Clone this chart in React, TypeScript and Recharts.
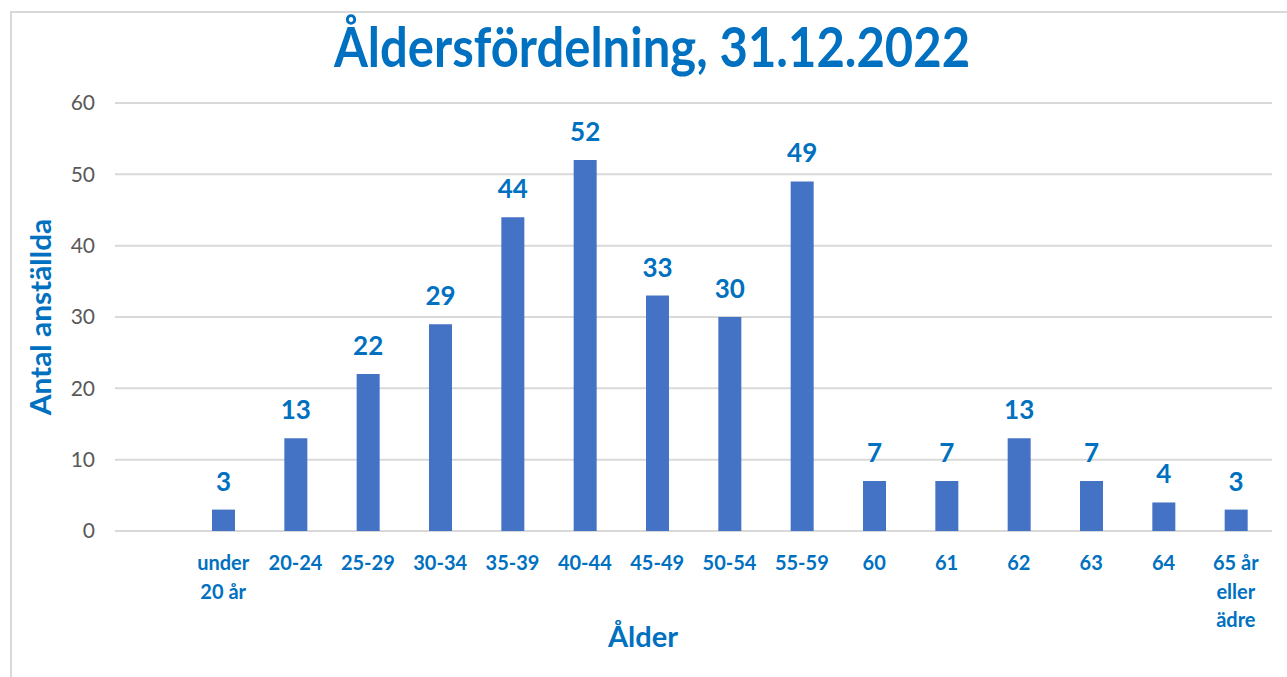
import React from "react";
import { BarChart, Bar, XAxis, YAxis, CartesianGrid, LabelList } from "recharts";

const ageGroups = [
  "under\n20 år", "20-24", "25-29", "30-34", "35-39", "40-44", "45-49", "50-54",
  "55-59", "60", "61", "62", "63", "64", "65 år\neller\nädre",
];
const employees = [3, 13, 22, 29, 44, 52, 33, 30, 49, 7, 7, 13, 7, 4, 3];
const yTicks = [0, 10, 20, 30, 40, 50, 60];

const data = ageGroups.map((g, i) => ({ group: g, count: employees[i] }));

const BLUE = "#0070C0";
const FONT = "Lato, 'Noto Sans', sans-serif";

function AgeTick(props: any) {
  const { x, y, payload } = props;
  const lines = String(payload.value).split("\n");
  return (
    <text x={x} y={y} textAnchor="middle" fill={BLUE} fontSize={20} fontWeight={700} fontFamily={FONT}>
      {lines.map((l, i) => (
        <tspan key={i} x={x} dy={i === 0 ? 31 : 28.5}>{l}</tspan>
      ))}
    </text>
  );
}

export default function App() {
  return (
    <div style={{ position: "absolute", left: 0, top: 0, width: 1287, height: 677, background: "#fff", overflow: "hidden" }}>
      <div style={{ position: "absolute", left: 10, top: 11, width: 1300, height: 700, borderTop: "2px solid #d9d9d9", borderLeft: "2px solid #d9d9d9" }} />
      <div style={{ position: "absolute", left: 0, top: 0 }}>
        <BarChart width={1287} height={677} data={data} margin={{ top: 103, right: 15, bottom: 0, left: 60 }}>
          <CartesianGrid vertical={false} stroke="#d9d9d9" strokeWidth={2} />
          <XAxis
            dataKey="group"
            axisLine={false}
            tickLine={false}
            interval={0}
            padding={{ left: 72, right: 0 }}
            tick={<AgeTick />}
            height={146}
          />
          <YAxis
            domain={[0, 60]}
            ticks={yTicks}
            width={55}
            axisLine={false}
            tickLine={false}
            tickMargin={14}
            tick={{ fill: "#595959", fontSize: 21, fontFamily: FONT }}
          />
          <Bar dataKey="count" fill="#4472C4" barSize={23} isAnimationActive={false}>
            <LabelList dataKey="count" position="top" offset={19} fill={BLUE} fontSize={26} fontWeight={700} fontFamily={FONT} />
          </Bar>
        </BarChart>
      </div>
      <svg width={1287} height={677} style={{ position: "absolute", left: 0, top: 0, pointerEvents: "none" }}>
        <text transform="translate(652,67) scale(1,1.15)" textAnchor="middle" fill={BLUE} fontSize={49} fontWeight={700} fontFamily={FONT}>
          Åldersfördelning, 31.12.2022
        </text>
        <text transform="translate(51,317) rotate(-90) scale(1.03,1)" textAnchor="middle" fill={BLUE} fontSize={29} fontWeight={700} fontFamily={FONT}>
          Antal anställda
        </text>
        <text x={643} y={647} textAnchor="middle" fill={BLUE} fontSize={29} fontWeight={700} fontFamily={FONT}>
          Ålder
        </text>
      </svg>
    </div>
  );
}
